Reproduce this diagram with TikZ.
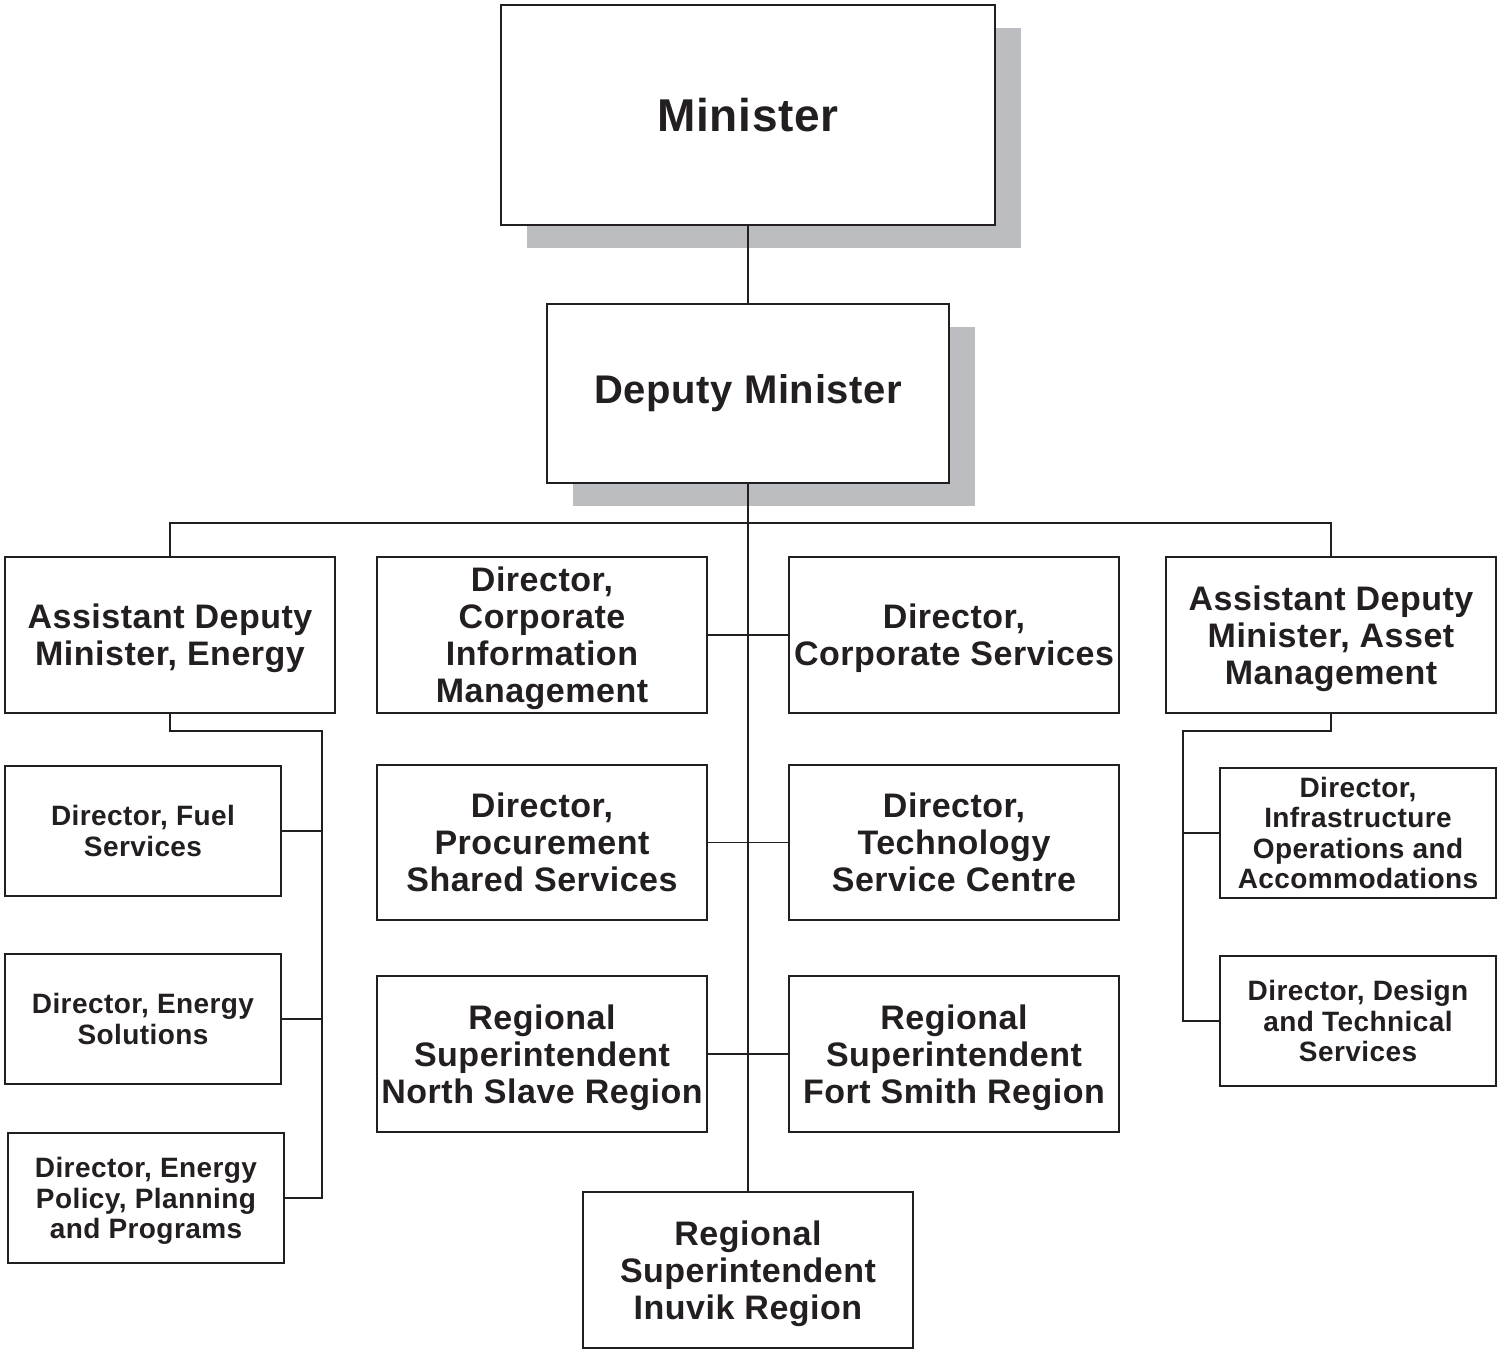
\documentclass[tikz,border=0pt]{standalone}
\usepackage{fontspec}
\setmainfont{Liberation Sans}[LetterSpace=1.5]
\usetikzlibrary{shadows}
\definecolor{ink}{HTML}{231F20}
\definecolor{shadowgray}{HTML}{BCBDC0}
\begin{document}
\begin{tikzpicture}[x=1pt,y=-1pt,
  box/.style={draw=ink, line width=2pt, fill=white, align=center, text=ink, inner sep=0pt,
    font=\bfseries\fontsize{34}{37}\selectfont},
  bigbox/.style={box, minimum width=330pt, minimum height=156pt, text depth=0pt},
  smallbox/.style={box, minimum width=276pt, minimum height=130pt, text depth=0pt,
    font=\bfseries\fontsize{28}{30.5}\selectfont},
  topshadow/.style={drop shadow={shadow xshift=26pt, shadow yshift=-23pt, fill=shadowgray, opacity=1}},
  link/.style={draw=ink, line width=1.1pt},
  trunk/.style={draw=ink, line width=2pt}]
\useasboundingbox[fill=white] (0,0) rectangle (1497,1351);

% top
\node[box, topshadow, minimum width=494pt, minimum height=220pt,
  font=\bfseries\fontsize{46}{50}\selectfont] (min) at (748,115) {Minister};
\node[box, topshadow, minimum width=402pt, minimum height=179pt,
  font=\bfseries\fontsize{40}{44}\selectfont] (dep) at (748,393.5) {Deputy Minister};

% row 1
\node[bigbox] (adme) at (170,635) {Assistant Deputy\\Minister, Energy};
\node[bigbox] (cim) at (542,635) {Director,\\Corporate\\Information\\Management};
\node[bigbox] (cs) at (954,635) {Director,\\Corporate Services};
\node[bigbox] (adma) at (1331,635) {Assistant Deputy\\Minister, Asset\\Management};

% row 2
\node[bigbox, minimum height=155pt] (proc) at (542,842.5) {Director,\\Procurement\\Shared Services};
\node[bigbox, minimum height=155pt] (tech) at (954,842.5) {Director,\\Technology\\Service Centre};

% row 3
\node[bigbox] (nsr) at (542,1054) {Regional\\Superintendent\\North Slave Region};
\node[bigbox] (fsr) at (954,1054) {Regional\\Superintendent\\Fort Smith Region};

% bottom
\node[bigbox] (inu) at (748,1270) {Regional\\Superintendent\\Inuvik Region};

% left small boxes
\node[smallbox] (fuel) at (143,831) {Director, Fuel\\Services};
\node[smallbox] (sol) at (143,1019) {Director, Energy\\Solutions};
\node[smallbox] (pol) at (146,1198) {Director, Energy\\Policy, Planning\\and Programs};

% right small boxes
\node[smallbox] (infra) at (1358,833) {Director,\\Infrastructure\\Operations and\\Accommodations};
\node[smallbox] (design) at (1358,1021) {Director, Design\\and Technical\\Services};

% connectors
\coordinate (bus) at (748,523);
\coordinate (lb) at (322,731);
\coordinate (rb) at (1183,731);

\draw[link] (min.south) -- (dep.north);
\draw[trunk] (dep.south) -- (inu.north);
\draw[link] (adme.north) |- (bus) -| (adma.north);
\draw[link] (cim.east) -- (cs.west);
\draw[link] (proc.east) -- (tech.west);
\draw[link] (nsr.east) -- (fsr.west);

\draw[link] (adme.south) |- (lb) |- (pol.east);
\draw[link] (fuel.east) -- (fuel.east -| lb);
\draw[link] (sol.east) -- (sol.east -| lb);

\draw[link] (adma.south) |- (rb) |- (design.west);
\draw[link] (infra.west) -- (infra.west -| rb);
\end{tikzpicture}
\end{document}
